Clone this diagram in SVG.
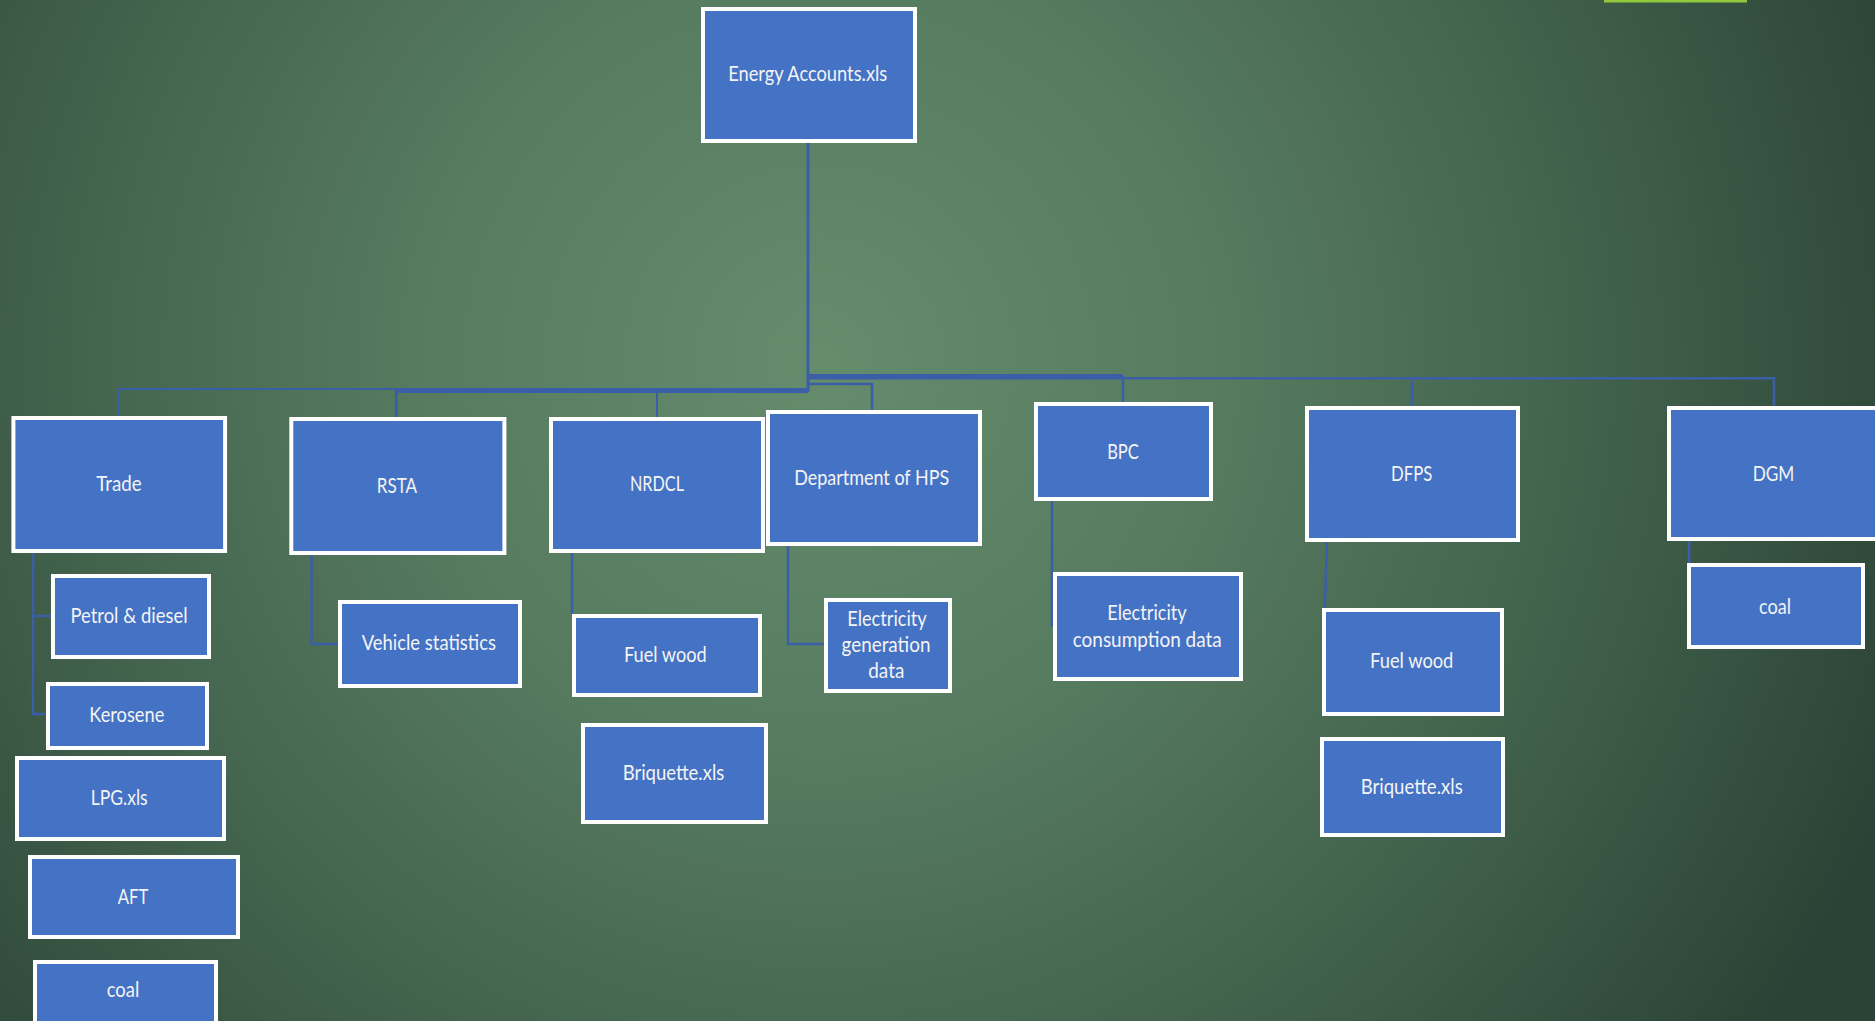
<svg xmlns="http://www.w3.org/2000/svg" width="1875" height="1021" viewBox="0 0 1875 1021">
<defs>
<radialGradient id="bg" gradientUnits="userSpaceOnUse" cx="820" cy="360" r="1150">
<stop offset="0" stop-color="#658c6d"/>
<stop offset="0.35" stop-color="#567b5f"/>
<stop offset="0.7" stop-color="#405f4a"/>
<stop offset="1" stop-color="#2b4336"/>
</radialGradient>
<style>
.box{fill:#4472c4;stroke:#ffffff;stroke-width:4}
.t{font-family:Lato,"Liberation Sans",sans-serif;font-size:22px;fill:#f4f4f4;text-anchor:middle}
.c{fill:none;stroke:#3a5ea8;stroke-width:2.5}
</style>
</defs>
<rect x="0" y="0" width="1875" height="1021" fill="url(#bg)"/>
<rect x="1604" y="0" width="143" height="2.5" fill="#92c83e"/>
<g id="connectors">
<path class="c" d="M808,143 V392" style="stroke-width:3"/>
<path class="c" d="M118,418 V389 H808" style="stroke-width:2"/>
<path class="c" d="M396.4,419 V391.5 H808" style="stroke-width:3"/>
<path class="c" d="M657,417 V390" style="stroke-width:2"/>
<path class="c" d="M808,376 H1123" style="stroke-width:4"/>
<path class="c" d="M1123,376 V402"/>
<path class="c" d="M808,378.3 H1774 V406"/>
<path class="c" d="M1412,378 V406"/>
<path class="c" d="M808,384 H872 V410"/>
<path class="c" d="M33,553 V714 H46"/>
<path class="c" d="M33,616 H51"/>
<path class="c" d="M311.7,555 V644 H338"/>
<path class="c" d="M572,552 V614"/>
<path class="c" d="M788,546 V644 H824"/>
<path class="c" d="M1052,500 V627"/>
<path class="c" d="M1327,541 L1323,660"/>
<path class="c" d="M1689,541 V563"/>
</g>
<g id="energy"><rect class="box" x="703" y="9" width="212" height="132"/><text class="t" x="807.7" y="81" textLength="159" lengthAdjust="spacingAndGlyphs">Energy Accounts.xls</text></g>
<g id="trade"><rect class="box" x="13.4" y="418" width="211.7" height="133"/><text class="t" x="119" y="491" textLength="45.4" lengthAdjust="spacingAndGlyphs">Trade</text></g>
<g id="rsta"><rect class="box" x="291.3" y="419" width="213.1" height="134"/><text class="t" x="397" y="492.7" textLength="40.3" lengthAdjust="spacingAndGlyphs">RSTA</text></g>
<g id="nrdcl"><rect class="box" x="551" y="419" width="212" height="132"/><text class="t" x="657" y="491" textLength="54" lengthAdjust="spacingAndGlyphs">NRDCL</text></g>
<g id="hps"><rect class="box" x="768" y="412" width="212" height="132"/><text class="t" x="871.7" y="485" textLength="155" lengthAdjust="spacingAndGlyphs">Department of HPS</text></g>
<g id="bpc"><rect class="box" x="1036" y="404" width="175" height="95"/><text class="t" x="1123" y="459" textLength="31.7" lengthAdjust="spacingAndGlyphs">BPC</text></g>
<g id="dfps"><rect class="box" x="1307" y="408" width="211" height="132"/><text class="t" x="1411.7" y="480.7" textLength="41.3" lengthAdjust="spacingAndGlyphs">DFPS</text></g>
<g id="dgm"><rect class="box" x="1669" y="408" width="212" height="131"/><text class="t" x="1773.5" y="481.3" textLength="41.7" lengthAdjust="spacingAndGlyphs">DGM</text></g>
<g id="petrol"><rect class="box" x="53" y="576" width="156" height="81"/><text class="t" x="129" y="622.7" textLength="117" lengthAdjust="spacingAndGlyphs">Petrol &amp; diesel</text></g>
<g id="kerosene"><rect class="box" x="48" y="684" width="159" height="64"/><text class="t" x="126.8" y="722.3" textLength="75" lengthAdjust="spacingAndGlyphs">Kerosene</text></g>
<g id="lpg"><rect class="box" x="17" y="758" width="207" height="81"/><text class="t" x="119.2" y="805" textLength="57" lengthAdjust="spacingAndGlyphs">LPG.xls</text></g>
<g id="aft"><rect class="box" x="30" y="857" width="208" height="80"/><text class="t" x="133" y="904" textLength="30.6" lengthAdjust="spacingAndGlyphs">AFT</text></g>
<g id="coal-trade"><rect class="box" x="35" y="962" width="181" height="80"/><text class="t" x="123" y="997.3" textLength="32.6" lengthAdjust="spacingAndGlyphs">coal</text></g>
<g id="vehicle"><rect class="box" x="340" y="602" width="180" height="84"/><text class="t" x="428.8" y="650" textLength="134.3" lengthAdjust="spacingAndGlyphs">Vehicle statistics</text></g>
<g id="fuelwood-nrdcl"><rect class="box" x="574" y="616" width="186" height="79"/><text class="t" x="665.3" y="662.3" textLength="82.7" lengthAdjust="spacingAndGlyphs">Fuel wood</text></g>
<g id="briquette-nrdcl"><rect class="box" x="583" y="725" width="183" height="97"/><text class="t" x="673.5" y="780" textLength="101.7" lengthAdjust="spacingAndGlyphs">Briquette.xls</text></g>
<g id="elec-gen"><rect class="box" x="826" y="600" width="124" height="91"/><text class="t" x="887" y="626" textLength="79.4" lengthAdjust="spacingAndGlyphs">Electricity</text><text class="t" x="886" y="652" textLength="89" lengthAdjust="spacingAndGlyphs">generation</text><text class="t" x="886.3" y="678.3" textLength="36" lengthAdjust="spacingAndGlyphs">data</text></g>
<g id="elec-cons"><rect class="box" x="1055" y="574" width="186" height="105"/><text class="t" x="1147" y="620" textLength="79.4" lengthAdjust="spacingAndGlyphs">Electricity</text><text class="t" x="1147.2" y="646.7" textLength="149" lengthAdjust="spacingAndGlyphs">consumption data</text></g>
<g id="fuelwood-dfps"><rect class="box" x="1324" y="610" width="178" height="104"/><text class="t" x="1411.7" y="668.3" textLength="83.3" lengthAdjust="spacingAndGlyphs">Fuel wood</text></g>
<g id="briquette-dfps"><rect class="box" x="1322" y="739" width="181" height="96"/><text class="t" x="1411.7" y="794.3" textLength="102" lengthAdjust="spacingAndGlyphs">Briquette.xls</text></g>
<g id="coal-dgm"><rect class="box" x="1689" y="565" width="174" height="82"/><text class="t" x="1775" y="613.6" textLength="32" lengthAdjust="spacingAndGlyphs">coal</text></g>
</svg>
